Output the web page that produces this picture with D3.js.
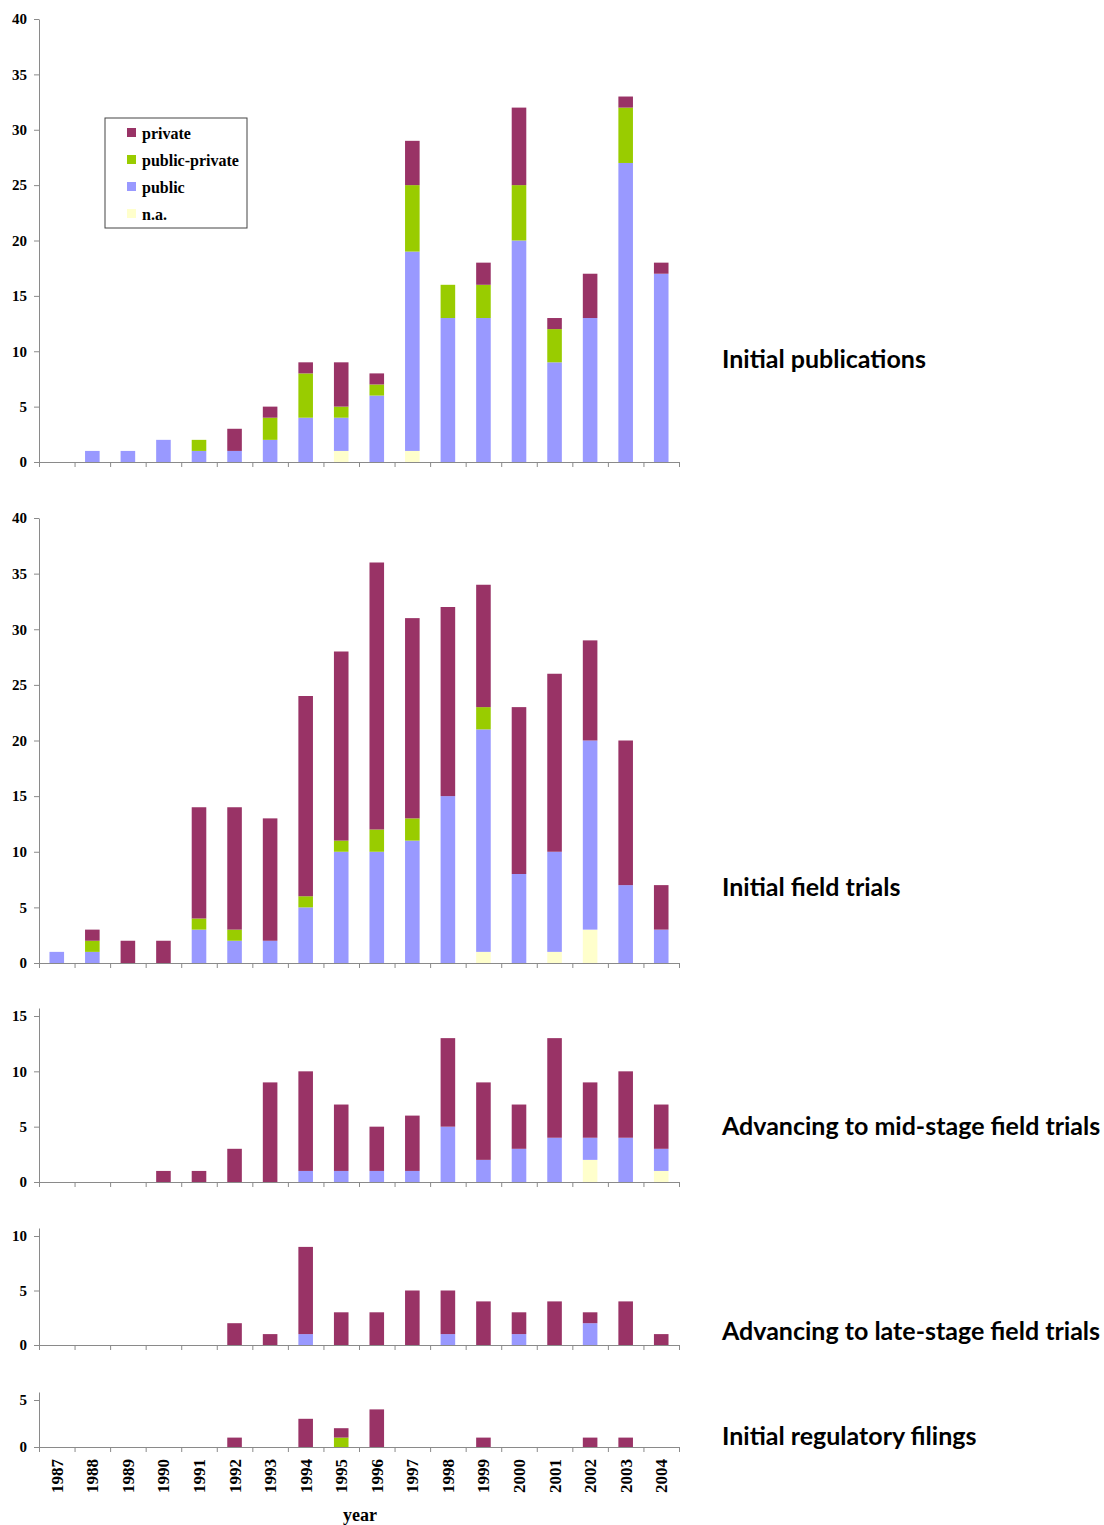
<!DOCTYPE html>
<html>
<head>
<meta charset="utf-8">
<script src="https://d3js.org/d3.v7.min.js"></script>
<style>
  body { margin: 0; background: #fff; }
  .tick text { font-family: "Liberation Serif", "Times New Roman", serif; font-weight: bold; fill: #000; }
  .title { font-family: Lato, "Open Sans", sans-serif; font-weight: bold; fill: #000; }
</style>
</head>
<body>
<div id="chart"></div>
<script>
// year categories along the bottom
var YEARS = ["1987", "1988", "1989", "1990", "1991", "1992", "1993", "1994", "1995",
             "1996", "1997", "1998", "1999", "2000", "2001", "2002", "2003", "2004"];

var SERIES = ["na", "public", "publicPrivate", "private"];
var SERIES_LABELS = { "private": "private", "publicPrivate": "public-private", "public": "public", "na": "n.a." };
var COLORS = { "private": "#993366", "publicPrivate": "#99CC00", "public": "#9999FF", "na": "#FFFFCC" };

// Initial publications
var pubNa            = [0, 0, 0, 0, 0, 0, 0, 0, 1, 0, 1, 0, 0, 0, 0, 0, 0, 0];
var pubPublic        = [0, 1, 1, 2, 1, 1, 2, 4, 3, 6, 18, 13, 13, 20, 9, 13, 27, 17];
var pubPublicPrivate = [0, 0, 0, 0, 1, 0, 2, 4, 1, 1, 6, 3, 3, 5, 3, 0, 5, 0];
var pubPrivate       = [0, 0, 0, 0, 0, 2, 1, 1, 4, 1, 4, 0, 2, 7, 1, 4, 1, 1];

// Initial field trials
var fieldNa            = [0, 0, 0, 0, 0, 0, 0, 0, 0, 0, 0, 0, 1, 0, 1, 3, 0, 0];
var fieldPublic        = [1, 1, 0, 0, 3, 2, 2, 5, 10, 10, 11, 15, 20, 8, 9, 17, 7, 3];
var fieldPublicPrivate = [0, 1, 0, 0, 1, 1, 0, 1, 1, 2, 2, 0, 2, 0, 0, 0, 0, 0];
var fieldPrivate       = [0, 1, 2, 2, 10, 11, 11, 18, 17, 24, 18, 17, 11, 15, 16, 9, 13, 4];

// Advancing to mid-stage field trials
var midNa            = [0, 0, 0, 0, 0, 0, 0, 0, 0, 0, 0, 0, 0, 0, 0, 2, 0, 1];
var midPublic        = [0, 0, 0, 0, 0, 0, 0, 1, 1, 1, 1, 5, 2, 3, 4, 2, 4, 2];
var midPublicPrivate = [0, 0, 0, 0, 0, 0, 0, 0, 0, 0, 0, 0, 0, 0, 0, 0, 0, 0];
var midPrivate       = [0, 0, 0, 1, 1, 3, 9, 9, 6, 4, 5, 8, 7, 4, 9, 5, 6, 4];

// Advancing to late-stage field trials
var lateNa            = [0, 0, 0, 0, 0, 0, 0, 0, 0, 0, 0, 0, 0, 0, 0, 0, 0, 0];
var latePublic        = [0, 0, 0, 0, 0, 0, 0, 1, 0, 0, 0, 1, 0, 1, 0, 2, 0, 0];
var latePublicPrivate = [0, 0, 0, 0, 0, 0, 0, 0, 0, 0, 0, 0, 0, 0, 0, 0, 0, 0];
var latePrivate       = [0, 0, 0, 0, 0, 2, 1, 8, 3, 3, 5, 4, 4, 2, 4, 1, 4, 1];

// Initial regulatory filings
var regNa            = [0, 0, 0, 0, 0, 0, 0, 0, 0, 0, 0, 0, 0, 0, 0, 0, 0, 0];
var regPublic        = [0, 0, 0, 0, 0, 0, 0, 0, 0, 0, 0, 0, 0, 0, 0, 0, 0, 0];
var regPublicPrivate = [0, 0, 0, 0, 0, 0, 0, 0, 1, 0, 0, 0, 0, 0, 0, 0, 0, 0];
var regPrivate       = [0, 0, 0, 0, 0, 1, 0, 3, 1, 4, 0, 0, 1, 0, 0, 1, 1, 0];

var TITLES = ["Initial publications", "Initial field trials", "Advancing to mid-stage field trials",
              "Advancing to late-stage field trials", "Initial regulatory filings"];
var Y_TICKS = [[0, 5, 10, 15, 20, 25, 30, 35, 40], [0, 5, 10, 15, 20, 25, 30, 35, 40],
               [0, 5, 10, 15], [0, 5, 10], [0, 5]];

// layout of each panel: pixel of zero, pixel of a reference value, top of the axis line
var LAYOUT = [
    { zero: 462,  ref: 40, refPx: 19,   top: 19,   titleY: 368 },
    { zero: 963,  ref: 40, refPx: 518,  top: 518,  titleY: 896 },
    { zero: 1182, ref: 15, refPx: 1016, top: 1008, titleY: 1135 },
    { zero: 1345, ref: 10, refPx: 1236, top: 1228, titleY: 1340 },
    { zero: 1447, ref: 5,  refPx: 1400, top: 1392, titleY: 1445 }
];

var WIDTH = 1104, HEIGHT = 1525;
var LEFT = 39, RIGHT = 679;

function panelRows(na, pub, pp, priv) {
    return YEARS.map(function(y, i) {
        return { year: y, na: na[i], "public": pub[i], publicPrivate: pp[i], "private": priv[i] };
    });
}

var panels = [
    panelRows(pubNa, pubPublic, pubPublicPrivate, pubPrivate),
    panelRows(fieldNa, fieldPublic, fieldPublicPrivate, fieldPrivate),
    panelRows(midNa, midPublic, midPublicPrivate, midPrivate),
    panelRows(lateNa, latePublic, latePublicPrivate, latePrivate),
    panelRows(regNa, regPublic, regPublicPrivate, regPrivate)
];

var svg = d3.select("#chart").append("svg")
    .attr("width", WIDTH)
    .attr("height", HEIGHT);

var x = d3.scaleBand()
    .domain(YEARS)
    .range([LEFT, RIGHT])
    .paddingInner(0.59)
    .paddingOuter(0.295);

// band edges, for the category tick marks between bars
var xEdge = d3.scaleLinear().domain([0, YEARS.length]).range([LEFT, RIGHT]);

var stack = d3.stack().keys(SERIES);

panels.forEach(function(rows, p) {
    var lay = LAYOUT[p];
    var pxPerUnit = (lay.zero - lay.refPx) / lay.ref;
    var yMax = (lay.zero - lay.top) / pxPerUnit;

    var y = d3.scaleLinear()
        .domain([0, yMax])
        .range([lay.zero, lay.top]);

    var g = svg.append("g").attr("class", "panel");

    var layers = g.selectAll(".layer")
        .data(stack(rows))
        .enter().append("g")
          .attr("class", "layer")
          .attr("fill", function(d) { return COLORS[d.key]; });

    layers.selectAll("rect")
        .data(function(d) { return d.filter(function(s) { return s[1] > s[0]; }); })
        .enter().append("rect")
          .attr("x", function(d) { return x(d.data.year); })
          .attr("y", function(d) { return y(d[1]); })
          .attr("width", x.bandwidth())
          .attr("height", function(d) { return y(d[0]) - y(d[1]); });

    // y axis
    var yAxis = g.append("g")
        .attr("transform", "translate(" + LEFT + ",0)")
        .call(d3.axisLeft(y).tickValues(Y_TICKS[p]).tickFormat(d3.format("d"))
              .tickSize(5).tickSizeOuter(0).tickPadding(7));
    yAxis.selectAll(".tick text").attr("font-size", 15);

    // x axis with marks between categories
    g.append("g")
        .attr("transform", "translate(0," + lay.zero + ")")
        .call(d3.axisBottom(xEdge).tickValues(d3.range(0, YEARS.length + 1))
              .tickFormat("").tickSize(5).tickSizeOuter(0));

    g.selectAll(".domain, .tick line").attr("stroke", "#8a8a8a");

    // panel title at right
    g.append("text")
        .attr("class", "title")
        .attr("x", 722)
        .attr("y", lay.titleY)
        .attr("font-size", 25)
        .text(TITLES[p]);

    // year labels only under the last panel
    if (p === panels.length - 1) {
        var labels = g.append("g")
            .attr("transform", "translate(0," + lay.zero + ")")
            .call(d3.axisBottom(x).tickSize(0).tickPadding(0));
        labels.select(".domain").remove();
        labels.selectAll(".tick text")
            .attr("font-size", 17)
            .attr("text-anchor", "end")
            .attr("dy", "0.35em")
            .attr("transform", "translate(0,12) rotate(-90)")
            .attr("x", 0)
            .attr("y", 0);
    }
});

// x axis title
svg.append("text")
    .attr("x", 360)
    .attr("y", 1521)
    .attr("text-anchor", "middle")
    .attr("font-family", "Liberation Serif, Times New Roman, serif")
    .attr("font-weight", "bold")
    .attr("font-size", 18)
    .text("year");

// legend in the first panel
var legend = svg.append("g").attr("transform", "translate(105,118)");
legend.append("rect")
    .attr("width", 142)
    .attr("height", 110)
    .attr("fill", "#fff")
    .attr("stroke", "#444")
    .attr("stroke-width", 1);

var legendKeys = ["private", "publicPrivate", "public", "na"];
var item = legend.selectAll(".item")
    .data(legendKeys)
    .enter().append("g")
      .attr("class", "item")
      .attr("transform", function(d, i) { return "translate(22," + (15 + i * 27) + ")"; });

item.append("rect")
    .attr("x", 0)
    .attr("y", -5)
    .attr("width", 9)
    .attr("height", 9)
    .attr("fill", function(d) { return COLORS[d]; });

item.append("text")
    .attr("x", 15)
    .attr("y", 0)
    .attr("dy", "0.35em")
    .attr("font-family", "Liberation Serif, Times New Roman, serif")
    .attr("font-weight", "bold")
    .attr("font-size", 16)
    .text(function(d) { return SERIES_LABELS[d]; });
</script>
</body>
</html>
